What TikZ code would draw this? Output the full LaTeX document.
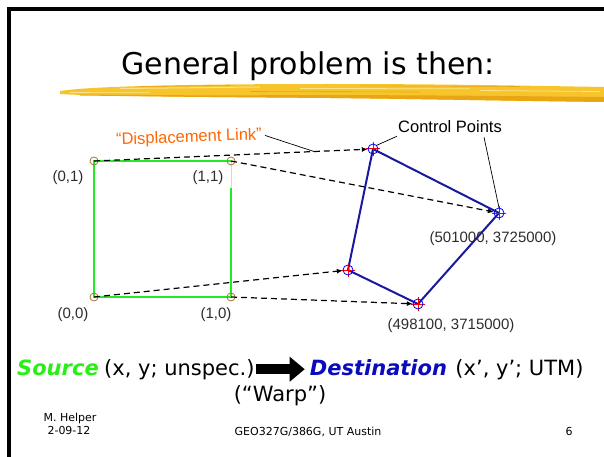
\documentclass[tikz,border=0pt]{standalone}
\usepackage{fontspec}
\setmainfont{Liberation Sans}
\newfontfamily\comic[Ligatures=TeX]{DejaVu Sans}
\usetikzlibrary{arrows.meta}
\definecolor{srcgreen}{RGB}{34,235,34}
\definecolor{txtgreen}{RGB}{40,240,20}
\definecolor{quadblue}{RGB}{25,25,160}
\definecolor{dstblue}{RGB}{10,10,190}
\definecolor{linkorange}{RGB}{255,102,0}
\definecolor{markbrown}{RGB}{176,112,48}
\definecolor{lblgray}{RGB}{45,45,45}
\definecolor{brushA}{RGB}{247,197,43}
\definecolor{brushB}{RGB}{233,166,20}
\definecolor{brushC}{RGB}{251,227,140}
\definecolor{palegreen}{RGB}{170,245,170}
\begin{document}
\begin{tikzpicture}[x=1pt, y=-1pt,
  srcline/.style={srcgreen, line width=2.4pt},
  srcmark/.style={circle, draw=markbrown, line width=0.8pt, minimum size=8pt, inner sep=0pt},
  ctrlmark/.style={circle, minimum size=10pt, inner sep=0pt},
  crossline/.style={red, line width=1pt},
  quadline/.style={quadblue, line width=2pt, line join=round},
  link/.style={black, line width=1.2pt, dash pattern=on 6pt off 4pt, -{Latex[length=6pt,width=5pt]}},
  leader/.style={black, line width=0.7pt},
  coordlbl/.style={font=\fontsize{15}{18}\selectfont, text=lblgray, anchor=base, inner sep=0pt},
  bigtxt/.style={font=\comic\fontsize{21}{25}\selectfont, anchor=base west, inner sep=0pt, text=black},
  foot/.style={font=\comic\fontsize{11}{13}\selectfont, anchor=base, inner sep=0pt},
  blockarrow/.style={line width=10pt, -{Triangle[length=15pt,width=24pt]}},
]
\useasboundingbox (0,0) rectangle (604,457);
\fill[white] (0,0) rectangle (604,457);
% frame
\draw[line width=3.5pt] (604,9) -- (9,9) -- (9,457);

% title
\node[font=\comic\fontsize{30}{34}\selectfont, anchor=base, inner sep=0pt] (title) at (308,75) {General problem is then:};

% brush stroke
\fill[brushA] (60,91) .. controls (90,86) and (200,84) .. (330,84) .. controls (450,84) and (540,86) .. (604,87)
  -- (604,102) .. controls (520,101) and (420,99) .. (330,98) .. controls (200,97) and (90,96) .. (60,94) -- cycle;
\fill[brushB] (80,94.5) .. controls (200,95.5) .. (330,95) .. controls (450,95.5) .. (604,97)
  -- (604,102) .. controls (520,101) and (420,99) .. (330,98) .. controls (200,97) .. (80,95.5) -- cycle;
\draw[brushC, line width=1pt] (120,88.5) -- (260,87);
\draw[brushC, line width=0.8pt] (300,88.5) -- (470,88.8);
\draw[brushC, line width=0.8pt] (480,90.5) -- (600,91.5);
\draw[brushB, line width=0.6pt] (140,86.5) -- (230,85.5);
\draw[brushB, line width=0.6pt] (360,85.8) -- (520,86.5);
\draw[brushC, line width=0.6pt] (70,92.5) -- (150,92.3);
\draw[brushB, line width=0.6pt] (250,91.5) -- (420,92);

% source square corners
\coordinate (s01) at (94,161);
\coordinate (s11) at (231,161);
\coordinate (s00) at (94,297);
\coordinate (s10) at (231,297);
\coordinate (sgap) at (231,188);

% destination control points
\node[ctrlmark] (c1) at (373,149) {};
\node[ctrlmark] (c2) at (499,213) {};
\node[ctrlmark] (c3) at (348,270) {};
\node[ctrlmark] (c4) at (418,304) {};

% green square
\draw[srcline] (sgap) -- (s10) -- (s00) -- (s01) -- (s11);
\draw[palegreen, line width=1pt] (s11) -- (sgap);

% corner markers
\node[srcmark] (m01) at (s01) {};
\node[srcmark] (m11) at (s11) {};
\node[srcmark] (m00) at (s00) {};
\node[srcmark] (m10) at (s10) {};

% displacement links
\draw[link] (s01) -- (c1);
\draw[link] (s11) -- (c2);
\draw[link] (s00) -- (c3);
\draw[link] (s10) -- (c4);

% blue quadrilateral
\draw[quadline] (c1.center) -- (c2.center) -- (c4.center) -- (c3.center) -- cycle;

% crosses and circles
\foreach \c in {c1,c2,c3,c4} {
  \draw[crossline] ([xshift=-7pt]\c.center) -- ([xshift=7pt]\c.center);
  \draw[crossline] ([yshift=-7pt]\c.center) -- ([yshift=7pt]\c.center);
  \draw[blue, line width=0.8pt] (\c.center) circle (5pt);
}

% labels
\node[coordlbl] (l01) at (68,182) {(0,1)};
\node[coordlbl] (l11) at (208,182) {(1,1)};
\node[coordlbl] (l00) at (73,318) {(0,0)};
\node[coordlbl] (l10) at (216,318) {(1,0)};
\node[coordlbl] (lc2) at (493,242) {(501000, 3725000)};
\node[coordlbl] (lc4) at (451,329) {(498100, 3715000)};

% displacement link label
\node[font=\fontsize{16.5}{19}\selectfont, text=linkorange, rotate=2, inner sep=0pt] (dlab) at (189,138) {“Displacement Link”};
\coordinate (dlend) at (314,151.5);
\draw[leader] ([xshift=3pt]dlab.east) -- (dlend);

% control points label
\node[font=\fontsize{16.5}{19}\selectfont, inner sep=0pt] (cp) at (450,127) {Control Points};
\draw[leader] ([xshift=-1pt,yshift=-3pt]cp.south west) -- (c1.north east);
\draw[leader] ([xshift=-18pt,yshift=-4pt]cp.south east) -- (c2.north);

% bottom line
\node[bigtxt, text=txtgreen, font=\comic\bfseries\itshape\fontsize{21}{25}\selectfont] (src) at (17,375) {Source};
\node[bigtxt] (srcp) at ([xshift=5pt]src.base east) {\color{black}(x, y; unspec.)};
\node[bigtxt, text=dstblue, font=\comic\bfseries\itshape\fontsize{21}{25}\selectfont] (dst) at ([xshift=55pt]srcp.base east) {Destination};
\node[bigtxt] (dstp) at ([xshift=8pt]dst.base east) {\color{black}(x’, y’; UTM)};
\draw[blockarrow] ([xshift=1pt]srcp.east) -- ([xshift=-5pt]dst.west |- srcp.east);
\node[font=\comic\fontsize{21}{25}\selectfont, anchor=base, inner sep=0pt] (warp) at (280,401) {(“Warp”)};

% footer
\node[foot] (auth) at (70,421) {M. Helper};
\node[foot] (date) at (69,434) {2-09-12};
\node[foot] (course) at (308,435) {GEO327G/386G, UT Austin};
\node[foot] (page) at (569,435) {6};
\end{tikzpicture}
\end{document}
